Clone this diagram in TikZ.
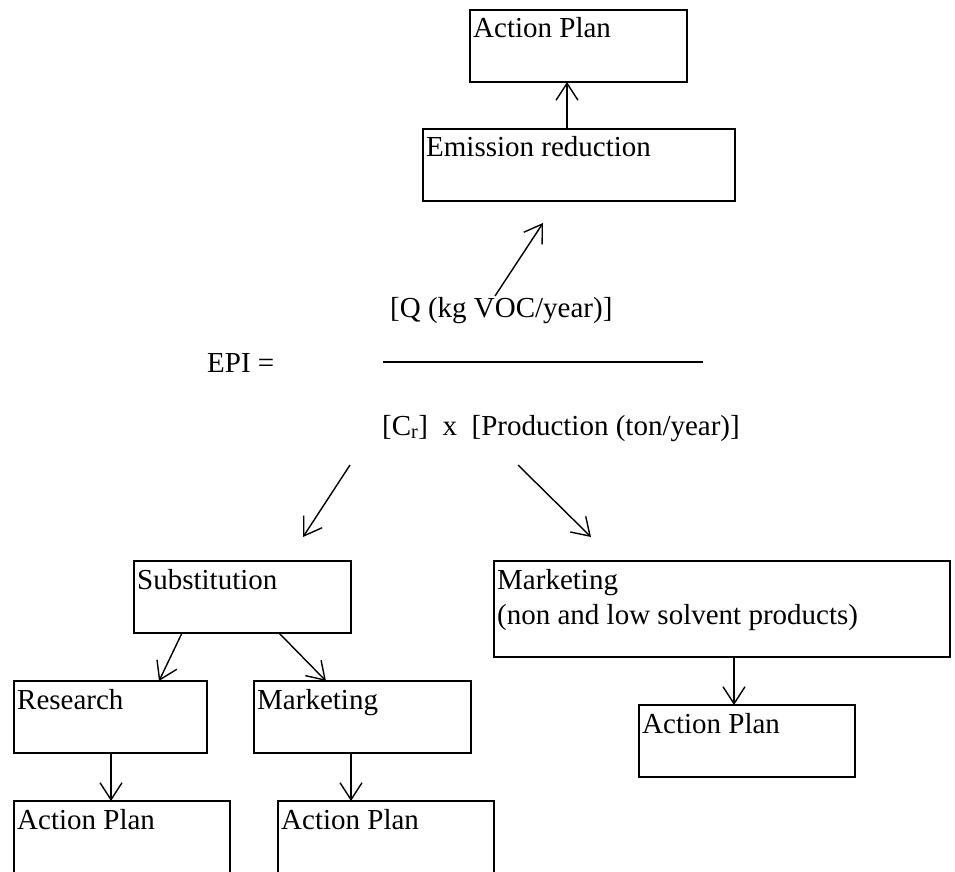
\documentclass[tikz,border=0pt]{standalone}
\usepackage{fontspec}
\setmainfont{Liberation Serif}
\usetikzlibrary{arrows.meta}
\begin{document}
\begin{tikzpicture}[x=1pt,y=-1pt,
  every node/.style={font=\fontsize{29}{35}\selectfont},
  box/.style={draw, line width=1.9pt, rectangle, inner sep=0pt, outer sep=0pt, anchor=north west},
  lab/.style={anchor=base west, shift={(3pt,-28pt)}, inner sep=0pt},
  txt/.style={anchor=base west, inner sep=0pt},
  arr/.style={line width=1.4pt, -{Straight Barb[length=17pt,width=22pt,line width=1.4pt]}}]
\useasboundingbox (0,0) rectangle (955,872);
\clip (0,0) rectangle (955,872);
% boxes
\node[box, minimum width=217pt, minimum height=72pt, label={[lab]north west:Action Plan}] (ap1) at (470,10) {};
\node[box, minimum width=312pt, minimum height=72pt, label={[lab]north west:Emission reduction}] (em) at (423,129) {};
\node[box, minimum width=217pt, minimum height=72pt, label={[lab]north west:Substitution}] (sub) at (134,561) {};
\node[box, minimum width=193pt, minimum height=72pt, label={[lab]north west:Research}] (res) at (14,681) {};
\node[box, minimum width=217pt, minimum height=72pt, label={[lab]north west:Marketing}] (mk) at (254,681) {};
\node[box, minimum width=216pt, minimum height=90pt, label={[lab]north west:Action Plan}] (ap2) at (14,801) {};
\node[box, minimum width=216pt, minimum height=90pt, label={[lab]north west:Action Plan}] (ap3) at (278,801) {};
\node[box, minimum width=456pt, minimum height=96pt, label={[lab]north west:{\begin{tabular}[t]{@{}l@{}}Marketing\\(non and low solvent products)\end{tabular}}}] (mkb) at (494,561) {};
\node[box, minimum width=216pt, minimum height=72pt, label={[lab]north west:Action Plan}] (ap4) at (639,705) {};
% formula
\node[txt] (epi) at (207,372) {EPI =};
\node[txt] (num) at (390,317) {[Q (kg VOC/year)]};
\node[txt] (den) at (382,435) {[C\textsubscript{r}]~~x~~[Production (ton/year)]};
\coordinate (fl) at (383,362);
\coordinate (fr) at (703,362);
\draw[line width=1.8pt] (fl) -- (fr);
% arrows
\draw[arr] (em.north -| 567,0) -- (ap1.south -| 567,0);
\coordinate (d1s) at (495,296);
\coordinate (d1e) at (543,223);
\draw[arr] (d1s) -- (d1e);
\coordinate (l1s) at (350,465);
\coordinate (l1e) at (303,537);
\draw[arr] (l1s) -- (l1e);
\coordinate (r1s) at (518,465);
\coordinate (r1e) at (591,537);
\draw[arr] (r1s) -- (r1e);
\draw[arr] (sub.south -| 182,0) -- (res.north -| 159,0);
\draw[arr] (sub.south -| 279,0) -- (mk.north -| 326,0);
\draw[arr] (res.south -| 111,0) -- (ap2.north -| 111,0);
\draw[arr] (mk.south -| 351,0) -- (ap3.north -| 351,0);
\draw[arr] (mkb.south -| 734,0) -- (ap4.north -| 734,0);
\end{tikzpicture}
\end{document}
